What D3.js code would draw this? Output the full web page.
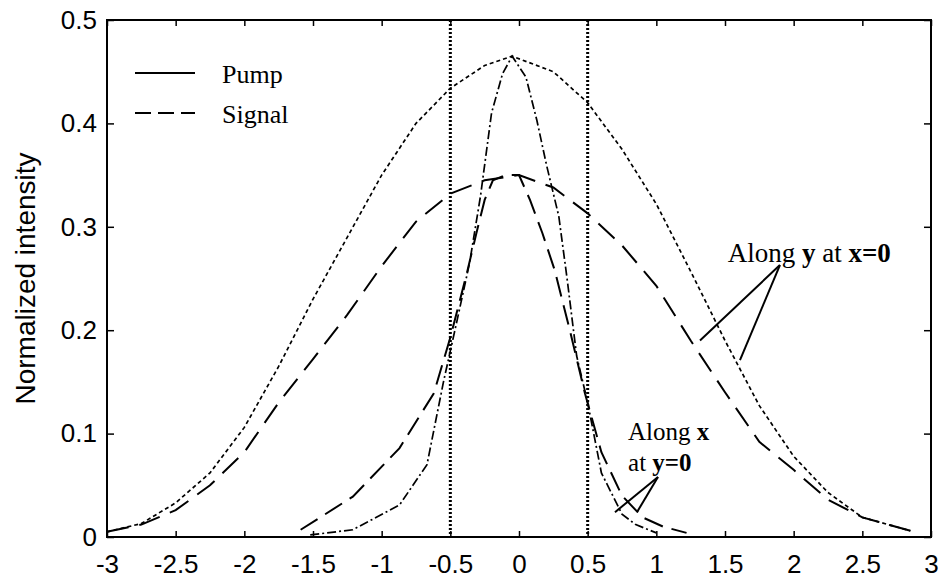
<!DOCTYPE html>
<html>
<head>
<meta charset="utf-8">
<script src="https://cdn.jsdelivr.net/npm/d3@7"></script>
<style>
  body { margin: 0; background: #fff; }
  svg { display: block; }
</style>
</head>
<body>
<svg id="chart"></svg>
<script>
const width = 942, height = 579;
const margin = {left: 107, right: 11, top: 20, bottom: 42};

// ticks
const xTicks = [-3, -2.5, -2, -1.5, -1, -0.5, 0, 0.5, 1, 1.5, 2, 2.5, 3];
const xTickLabels = ["-3", "-2.5", "-2", "-1.5", "-1", "-0.5", "0", "0.5", "1", "1.5", "2", "2.5", "3"];
const yTicks = [0, 0.1, 0.2, 0.3, 0.4, 0.5];
const yTickLabels = ["0", "0.1", "0.2", "0.3", "0.4", "0.5"];

// pump, along y at x=0 (wide)
const pumpYx = [-3, -2.75, -2.5, -2.25, -2, -1.75, -1.5, -1.25, -1, -0.75, -0.5, -0.25, -0.05, 0.25, 0.5, 0.75, 1, 1.25, 1.5, 1.75, 2, 2.25, 2.5, 2.85];
const pumpYv = [0.005, 0.013, 0.033, 0.062, 0.106, 0.165, 0.23, 0.29, 0.35, 0.4, 0.434, 0.456, 0.465, 0.45, 0.42, 0.375, 0.322, 0.257, 0.19, 0.127, 0.078, 0.043, 0.019, 0.006];

// signal, along y at x=0 (wide)
const signalYx = [-3, -2.75, -2.5, -2.25, -2, -1.75, -1.5, -1.25, -1, -0.75, -0.5, -0.25, 0, 0.25, 0.5, 0.75, 1, 1.25, 1.5, 1.75, 2, 2.25, 2.5, 2.85];
const signalYv = [0.005, 0.012, 0.026, 0.05, 0.082, 0.13, 0.172, 0.215, 0.262, 0.305, 0.332, 0.345, 0.35, 0.338, 0.313, 0.282, 0.243, 0.19, 0.14, 0.092, 0.065, 0.036, 0.019, 0.006];

// pump, along x at y=0 (narrow)
const pumpXx = [-1.52, -1.21, -0.87, -0.67, -0.55, -0.45, -0.36, -0.28, -0.2, -0.12, -0.05, 0.05, 0.13, 0.2, 0.29, 0.35, 0.42, 0.5, 0.6, 0.75, 0.85, 1.0];
const pumpXv = [0.002, 0.007, 0.031, 0.07, 0.15, 0.21, 0.265, 0.33, 0.41, 0.448, 0.465, 0.445, 0.403, 0.36, 0.31, 0.25, 0.175, 0.13, 0.062, 0.022, 0.012, 0.004];

// signal, along x at y=0 (narrow)
const signalXx = [-1.59, -1.21, -0.87, -0.62, -0.5, -0.38, -0.31, -0.25, -0.19, -0.1, 0.0, 0.08, 0.17, 0.26, 0.37, 0.48, 0.6, 0.75, 0.9, 1.05, 1.22];
const signalXv = [0.007, 0.039, 0.086, 0.139, 0.193, 0.255, 0.294, 0.326, 0.345, 0.35, 0.35, 0.326, 0.294, 0.258, 0.2, 0.139, 0.082, 0.04, 0.019, 0.01, 0.004];

// vertical markers
const markers = [-0.5, 0.5];

const x = d3.scaleLinear().domain([-3, 3]).range([margin.left, width - margin.right]);
const y = d3.scaleLinear().domain([0, 0.5]).range([height - margin.bottom, margin.top]);

const svg = d3.select("#chart")
    .attr("width", width)
    .attr("height", height);

const line = d3.line()
    .x(d => x(d[0]))
    .y(d => y(d[1]));

const zip = (a, b) => a.map((v, i) => [v, b[i]]);

// axes (ticks inward, matlab style)
const tickFont = "'Liberation Sans', Arial, sans-serif";

svg.append("g")
    .attr("transform", `translate(0,${y(0)})`)
    .call(d3.axisBottom(x).tickValues(xTicks).tickFormat((d, i) => xTickLabels[i]).tickSizeInner(-6).tickSizeOuter(0).tickPadding(18))
    .call(g => g.select(".domain").remove());

svg.append("g")
    .attr("transform", `translate(0,${y(0.5)})`)
    .call(d3.axisTop(x).tickValues(xTicks).tickFormat("").tickSizeInner(-6).tickSizeOuter(0))
    .call(g => g.select(".domain").remove());

svg.append("g")
    .attr("transform", `translate(${x(-3)},0)`)
    .call(d3.axisLeft(y).tickValues(yTicks).tickFormat((d, i) => yTickLabels[i]).tickSizeInner(-7).tickSizeOuter(0).tickPadding(10))
    .call(g => g.select(".domain").remove());

svg.append("g")
    .attr("transform", `translate(${x(3)},0)`)
    .call(d3.axisRight(y).tickValues(yTicks).tickFormat("").tickSizeInner(-7).tickSizeOuter(0))
    .call(g => g.select(".domain").remove());

svg.selectAll(".tick line").attr("stroke", "#000").attr("stroke-width", 1.5);
svg.selectAll(".tick text")
    .attr("fill", "#000")
    .style("font-family", tickFont)
    .style("font-size", "26px");

// frame
svg.append("rect")
    .attr("x", x(-3))
    .attr("y", y(0.5))
    .attr("width", x(3) - x(-3))
    .attr("height", y(0) - y(0.5))
    .attr("fill", "none")
    .attr("stroke", "#000")
    .attr("stroke-width", 2);

// dotted verticals
svg.selectAll(".marker")
    .data(markers)
    .enter().append("line")
    .attr("class", "marker")
    .attr("x1", d => x(d))
    .attr("x2", d => x(d))
    .attr("y1", y(0.5))
    .attr("y2", y(0))
    .attr("stroke", "#000")
    .attr("stroke-width", 3)
    .attr("stroke-dasharray", "2,2");

// curves
const curves = [
    {pts: zip(pumpYx, pumpYv), dash: "4,3", w: 1.7},
    {pts: zip(signalYx, signalYv), dash: "22,11", w: 2},
    {pts: zip(pumpXx, pumpXv), dash: "9,3,2,3", w: 1.7},
    {pts: zip(signalXx, signalXv), dash: "20,9", w: 2}
];

svg.selectAll(".curve")
    .data(curves)
    .enter().append("path")
    .attr("class", "curve")
    .attr("d", d => line(d.pts))
    .attr("fill", "none")
    .attr("stroke", "#000")
    .attr("stroke-width", d => d.w)
    .attr("stroke-dasharray", d => d.dash);

// legend
const serif = "'Liberation Serif', 'Times New Roman', serif";
const legend = [
    {label: "Pump", dash: null, ly: 73},
    {label: "Signal", dash: "16,7", ly: 113}
];
const lg = svg.append("g");
lg.selectAll("line")
    .data(legend)
    .enter().append("line")
    .attr("x1", 135).attr("x2", 195)
    .attr("y1", d => d.ly).attr("y2", d => d.ly)
    .attr("stroke", "#000")
    .attr("stroke-width", 2)
    .attr("stroke-dasharray", d => d.dash);
lg.selectAll("text")
    .data(legend)
    .enter().append("text")
    .attr("x", 222)
    .attr("y", d => d.ly + 10)
    .style("font-family", serif)
    .style("font-size", "26px")
    .text(d => d.label);

// y label
svg.append("text")
    .attr("transform", `translate(25,${y(0.25)}) rotate(-90)`)
    .attr("text-anchor", "middle")
    .attr("dominant-baseline", "central")
    .style("font-family", tickFont)
    .style("font-size", "28px")
    .text("Normalized intensity");

// annotations
const annotations = [
    {x: 1.52, y: 0.266, size: 27, parts: [["Along ", false], ["y", true], [" at ", false], ["x=0", true]]},
    {x: 0.794, y: 0.094, size: 25, parts: [["Along ", false], ["x", true]]},
    {x: 0.794, y: 0.064, size: 25, parts: [["at ", false], ["y=0", true]]}
];
annotations.forEach(a => {
    const t = svg.append("text")
        .attr("x", x(a.x))
        .attr("y", y(a.y))
        .style("font-family", serif)
        .style("font-size", a.size + "px");
    a.parts.forEach(p => {
        t.append("tspan")
            .attr("font-weight", p[1] ? "bold" : "normal")
            .text(p[0]);
    });
});

const leaders = [
    [[1.90, 0.263], [1.318, 0.19]],
    [[1.90, 0.263], [1.609, 0.171]],
    [[1.012, 0.058], [0.699, 0.024]],
    [[1.012, 0.058], [0.859, 0.024]]
];
svg.selectAll(".leader")
    .data(leaders)
    .enter().append("path")
    .attr("class", "leader")
    .attr("d", d => line(d))
    .attr("fill", "none")
    .attr("stroke", "#000")
    .attr("stroke-width", 2);
</script>
</body>
</html>
